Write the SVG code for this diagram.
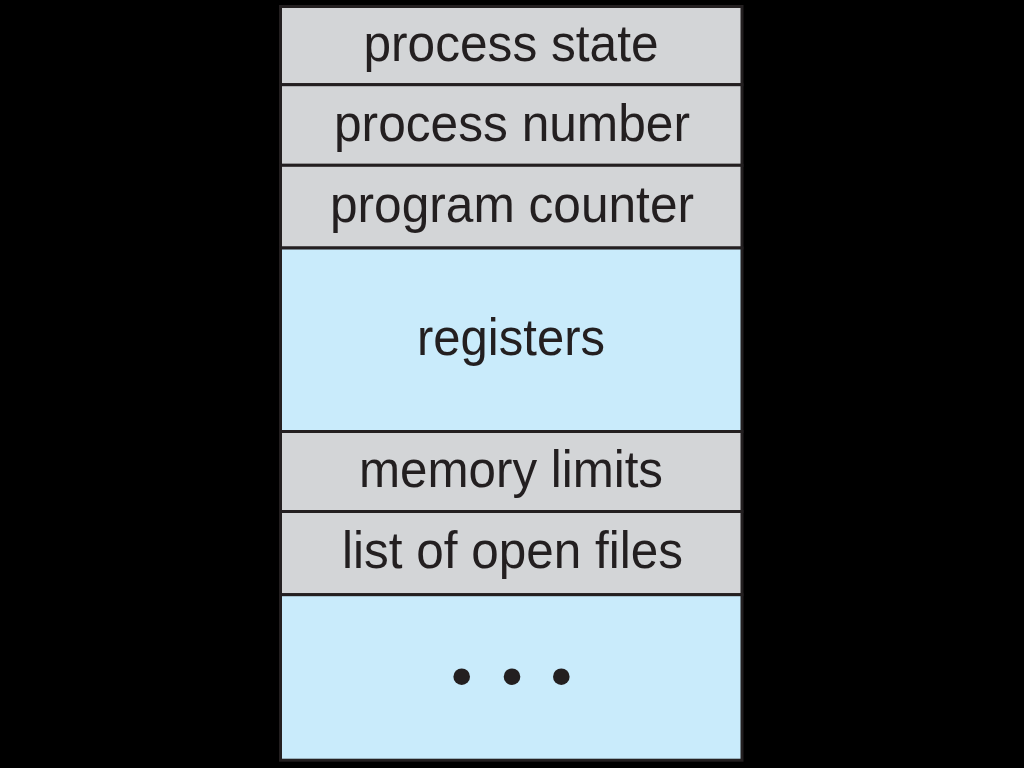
<svg xmlns="http://www.w3.org/2000/svg" width="1024" height="768" viewBox="0 0 1024 768">
  <style>
    .gray { fill: #d3d5d7; stroke: #231f20; stroke-width: 3; }
    .blue { fill: #c9ebfb; stroke: #231f20; stroke-width: 3; }
    .lbl { font-family: "Liberation Sans", Arial, Helvetica, sans-serif; font-size: 52px; fill: #231f20; text-anchor: middle; }
    .dot { fill: #231f20; }
  </style>
  <rect x="0" y="0" width="1024" height="768" fill="#000000"/>
  <g id="row-process-state">
    <rect class="gray" x="280.5" y="6.5" width="461.5" height="78.2"/>
    <text class="lbl" x="511" y="60.5" textLength="295" lengthAdjust="spacingAndGlyphs">process state</text>
  </g>
  <g id="row-process-number">
    <rect class="gray" x="280.5" y="84.7" width="461.5" height="80.6"/>
    <text class="lbl" x="512" y="140.5" textLength="356" lengthAdjust="spacingAndGlyphs">process number</text>
  </g>
  <g id="row-program-counter">
    <rect class="gray" x="280.5" y="165.3" width="461.5" height="82.7"/>
    <text class="lbl" x="512" y="222" textLength="364" lengthAdjust="spacingAndGlyphs">program counter</text>
  </g>
  <g id="row-registers">
    <rect class="blue" x="280.5" y="248" width="461.5" height="183.5"/>
    <text class="lbl" x="511" y="355" textLength="188" lengthAdjust="spacingAndGlyphs">registers</text>
  </g>
  <g id="row-memory-limits">
    <rect class="gray" x="280.5" y="431.5" width="461.5" height="80"/>
    <text class="lbl" x="511" y="487" textLength="304" lengthAdjust="spacingAndGlyphs">memory limits</text>
  </g>
  <g id="row-open-files">
    <rect class="gray" x="280.5" y="511.5" width="461.5" height="83.2"/>
    <text class="lbl" x="512.5" y="568.3" textLength="341" lengthAdjust="spacingAndGlyphs">list of open files</text>
  </g>
  <g id="row-more">
    <rect class="blue" x="280.5" y="594.7" width="461.5" height="165.5"/>
    <circle class="dot" cx="461.7" cy="676.7" r="8.3"/>
    <circle class="dot" cx="512" cy="676.7" r="8.3"/>
    <circle class="dot" cx="561.3" cy="676.7" r="8.3"/>
  </g>
  <g id="connectors"/>
</svg>
